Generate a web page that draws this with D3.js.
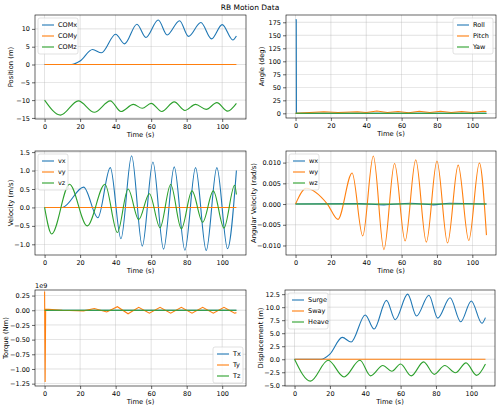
<!DOCTYPE html>
<html><head><meta charset="utf-8">
<script src="https://cdn.jsdelivr.net/npm/d3@7"></script>
<style>body{margin:0;background:#fff}text{font-family:"DejaVu Sans",sans-serif}</style>
</head><body>
<script>
// key points: [time, value]
var comx = [[0,0],[15,0],[20,1],[27,4.2],[32,3.3],[40,8.5],[45,5.8],[52,11.3],[57,7.6],[64,12.5],[69,8.3],[76,12.3],[81,7.9],[88,11.8],[94,7.2],[100,11.2],[106,6.9],[108,8]]
var zero = [[0,0],[108,0]]
var comz = [[0,-10],[9,-14.2],[19,-10.2],[28,-13.4],[37,-10.2],[43,-13.2],[50,-11.2],[55,-12.3],[60,-10.9],[66,-13.2],[73,-10.5],[79,-12.9],[85,-11.2],[91,-12.6],[97,-10.7],[103,-13.1],[108,-10.9]]
var heave = comz.map(function(d){return [d[0], d[1]+10]})
var roll = [[0,180],[0.4,180],[0.5,0],[108,0]]
var pitch = [[0,0],[8,1.5],[16,3],[24,1.5],[35,3],[40,1.5],[46,4.5],[52,1.5],[58,3.5],[64,1],[70,4],[76,1.5],[82,4],[88,1.5],[94,3.5],[100,1.5],[106,4],[108,3.5]]
var vx = [[0,0],[10,0],[22,0.55],[30,-0.28],[37,1.08],[43,-0.85],[49,1.4],[55,-1.05],[61,1.23],[67,-1.13],[73,1.1],[79,-1.16],[85,1.08],[91,-1.17],[97,1.08],[103,-1.12],[108,1.0]]
var vz = [[0,0],[4,-0.72],[14,0.63],[24,-0.5],[34,0.63],[41,-0.68],[47,0.5],[53,-0.33],[59,0.37],[65,-0.55],[71,0.62],[77,-0.58],[83,0.45],[89,-0.4],[95,0.45],[101,-0.56],[107,0.6],[108,0.35]]
var wx = [[0,0],[36,0.0001],[50,-0.0002],[65,0.0002],[78,-0.0002],[87,0.0002],[108,0]]
var wy = [[0,0],[6,0.0038],[18,0],[24,-0.0037],[32,0.0075],[38,-0.0077],[44,0.0116],[50,-0.011],[56,0.0098],[62,-0.0089],[68,0.0107],[74,-0.0092],[80,0.0104],[86,-0.0094],[92,0.0094],[98,-0.0088],[104,0.0099],[108,-0.0075]]
var ty = [[0,0.32],[0.3,-1.22],[0.6,0.02],[10,0],[22,-0.01],[28,0.03],[35,-0.03],[41,0.06],[47,-0.06],[53,0.05],[59,-0.05],[65,0.05],[71,-0.05],[77,0.05],[83,-0.05],[89,0.05],[95,-0.05],[101,0.05],[107,-0.05],[108,-0.04]]

var colors = ["#1f77b4","#ff7f0e","#2ca02c"]
var xTicks = [0,20,40,60,80,100]

var W = 500, H = 414
var svg = d3.select("body").append("svg").attr("width", W).attr("height", H)
svg.append("text").text("RB Motion Data").attr("x", 250).attr("y", 10).attr("text-anchor","middle").attr("font-size", 7.5)

var panels = [
  {l:35,r:246,t:15,b:119,y:[-15.3,13.9],yt:[-15,-10,-5,0,5,10],fmt:d3.format("d"),lab:"Position (m)",names:["COMx","COMy","COMz"],data:[comx,zero,comz],leg:"tl"},
  {l:286,r:496,t:15,b:118,y:[-9,189],yt:[0,25,50,75,100,125,150,175],fmt:d3.format("d"),lab:"Angle (deg)",names:["Roll","Pitch","Yaw"],data:[roll,pitch,zero],leg:"tr",linear:true},
  {l:35,r:246,t:151,b:255,y:[-1.29,1.53],yt:[-1,-0.5,0,0.5,1,1.5],fmt:d3.format(".1f"),lab:"Velocity (m/s)",names:["vx","vy","vz"],data:[vx,zero,vz],leg:"tl"},
  {l:286,r:496,t:151,b:255,y:[-0.0123,0.0128],yt:[-0.01,-0.005,0,0.005,0.01],fmt:d3.format(".3f"),lab:"Angular Velocity (rad/s)",names:["wx","wy","wz"],data:[wx,wy,zero],leg:"tl"},
  {l:35,r:246,t:290,b:386,y:[-1.29,0.345],yt:[-1.25,-1,-0.75,-0.5,-0.25,0,0.25],fmt:d3.format(".2f"),lab:"Torque (Nm)",names:["Tx","Ty","Tz"],data:[zero,ty,zero],leg:"br",linear:true,exp:"1e9"},
  {l:285,r:495,t:290,b:386,y:[-5.14,13.3],yt:[-5,-2.5,0,2.5,5,7.5,10,12.5],fmt:d3.format(".1f"),lab:"Displacement (m)",names:["Surge","Sway","Heave"],data:[comx,zero,heave],leg:"tl"}
]

panels.forEach(function(p){
  var x = d3.scaleLinear().domain([-5.4,113.4]).range([p.l,p.r])
  var y = d3.scaleLinear().domain(p.y).range([p.b,p.t])
  var g = svg.append("g")
  // grid
  g.selectAll(".gx").data(xTicks).enter().append("line")
    .attr("x1",function(d){return x(d)}).attr("x2",function(d){return x(d)})
    .attr("y1",p.t).attr("y2",p.b).attr("stroke","#b0b0b0").attr("stroke-width",0.6).attr("opacity",0.6)
  g.selectAll(".gy").data(p.yt).enter().append("line")
    .attr("y1",function(d){return y(d)}).attr("y2",function(d){return y(d)})
    .attr("x1",p.l).attr("x2",p.r).attr("stroke","#b0b0b0").attr("stroke-width",0.6).attr("opacity",0.6)
  // lines
  var clip = "c" + p.l + "_" + p.t
  svg.append("clipPath").attr("id",clip).append("rect").attr("x",p.l).attr("y",p.t).attr("width",p.r-p.l).attr("height",p.b-p.t)
  p.data.forEach(function(s,i){
    var line = d3.line().x(function(d){return x(d[0])}).y(function(d){return y(d[1])})
      .curve(p.linear ? d3.curveLinear : d3.curveMonotoneX)
    g.append("path").datum(s).attr("d",line).attr("fill","none").attr("stroke",colors[i])
      .attr("stroke-width",1.1).attr("clip-path","url(#"+clip+")")
  })
  // axes
  var ax = g.append("g").attr("transform","translate(0,"+p.b+")").call(d3.axisBottom(x).tickValues(xTicks).tickSize(3).tickPadding(2))
  var ay = g.append("g").attr("transform","translate("+p.l+",0)").call(d3.axisLeft(y).tickValues(p.yt).tickFormat(p.fmt).tickSize(3).tickPadding(2))
  ;[ax,ay].forEach(function(a){
    a.select(".domain").remove()
    a.selectAll("text").attr("font-size",6.5).attr("fill","#000")
    a.selectAll("line").attr("stroke","#000").attr("stroke-width",0.6)
  })
  g.append("rect").attr("x",p.l).attr("y",p.t).attr("width",p.r-p.l).attr("height",p.b-p.t)
    .attr("fill","none").attr("stroke","#000").attr("stroke-width",0.6)
  g.append("text").text("Time (s)").attr("x",(p.l+p.r)/2).attr("y",p.b+18).attr("text-anchor","middle").attr("font-size",6.8)
  var lx = p.l - (p.fmt === panels[3].fmt ? 30 : (p.yt[0] === -1.25 ? 27 : 22))
  if (p.lab === "Position (m)" || p.lab === "Angle (deg)") lx = p.l - 22
  g.append("text").text(p.lab).attr("transform","translate("+lx+","+(p.t+p.b)/2+") rotate(-90)")
    .attr("text-anchor","middle").attr("font-size",6.8)
  if (p.exp) g.append("text").text(p.exp).attr("x",p.l).attr("y",p.t-2).attr("font-size",6.5)
  // legend
  var lw = p.names[0].length > 3 ? 40 : 30, lh = 36
  var lx0 = p.leg === "tl" ? p.l + 3 : p.r - lw - 3
  var ly0 = p.leg === "br" ? p.b - lh - 3 : p.t + 3
  var lg = g.append("g").attr("transform","translate("+lx0+","+ly0+")")
  lg.append("rect").attr("width",lw).attr("height",lh).attr("rx",2).attr("fill","#fff").attr("fill-opacity",0.8).attr("stroke","#ccc").attr("stroke-width",0.6)
  p.names.forEach(function(n,i){
    lg.append("line").attr("x1",4).attr("x2",16).attr("y1",7+i*11).attr("y2",7+i*11).attr("stroke",colors[i]).attr("stroke-width",1.1)
    lg.append("text").text(n).attr("x",20).attr("y",9.3+i*11).attr("font-size",6.5)
  })
})
</script>
</body></html>
